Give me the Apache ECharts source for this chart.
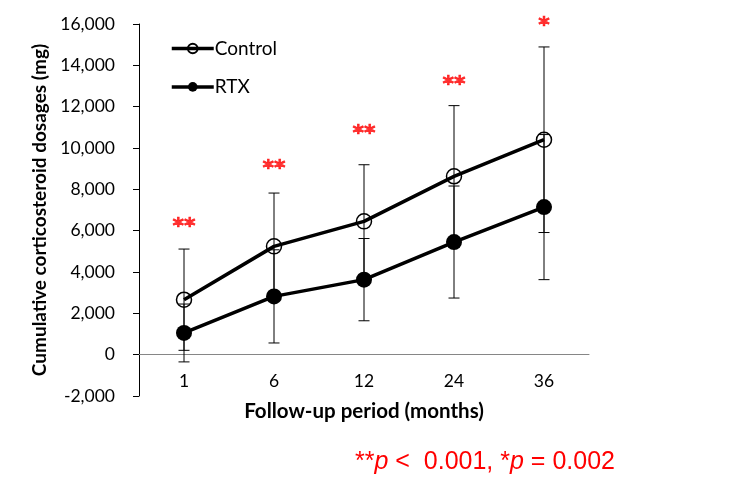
<!DOCTYPE html>
<html>
<head>
<meta charset="utf-8">
<script src="https://cdn.jsdelivr.net/npm/echarts@6/dist/echarts.min.js"></script>
<style>html,body{margin:0;padding:0;background:#fff;}#c{width:750px;height:491px;}</style>
</head>
<body>
<div id="c"></div>
<script>
var categories = ['1', '6', '12', '24', '36'];
var controlMean = [2660, 5240, 6450, 8630, 10400];
var controlSD = [2450, 2580, 2740, 3420, 4490];
var rtxMean = [1050, 2820, 3630, 5450, 7140];
var rtxSD = [1400, 2254, 1990, 2710, 3510];
var starLabels = ['**', '**', '**', '**', '*'];
var starY = [6450, 9240, 10970, 13310, 16170];
var yTicks = { min: -2000, max: 16000, interval: 2000 };

var FONT = 'Lato';

function errData(mean, sd) {
  return mean.map(function (m, i) { return [i, m - sd[i], m + sd[i]]; });
}
function renderErr(params, api) {
  var x = api.value(0);
  var lo = api.coord([x, api.value(1)]);
  var hi = api.coord([x, api.value(2)]);
  var w = 5.5;
  var st = { stroke: '#000', lineWidth: 1 };
  return {
    type: 'group',
    children: [
      { type: 'line', shape: { x1: hi[0], y1: hi[1], x2: lo[0], y2: lo[1] }, style: st },
      { type: 'line', shape: { x1: hi[0] - w, y1: hi[1], x2: hi[0] + w, y2: hi[1] }, style: st },
      { type: 'line', shape: { x1: lo[0] - w, y1: lo[1], x2: lo[0] + w, y2: lo[1] }, style: st }
    ]
  };
}

var chart = echarts.init(document.getElementById('c'));
chart.setOption({
  animation: false,
  backgroundColor: '#fff',
  textStyle: { fontFamily: FONT },
  grid: { left: 139, right: 161, top: 24, bottom: 95, containLabel: false },
  legend: {
    left: 170, top: 39, orient: 'vertical', padding: 0,
    itemWidth: 42, itemHeight: 12, itemGap: 19.4,
    lineStyle: { width: 3.5, color: '#000' },
    textStyle: { fontFamily: FONT, fontSize: 19, color: '#000', padding: [0, 0, 0, -4] },
    data: ['Control', 'RTX']
  },
  xAxis: {
    type: 'category', data: categories, boundaryGap: true,
    axisLine: { onZero: true, lineStyle: { color: '#868686', width: 1 } },
    axisTick: { show: false },
    axisLabel: { fontFamily: FONT, fontSize: 17.5, color: '#000', margin: -24 },
    name: 'Follow-up period (months)', nameLocation: 'middle', nameGap: 5,
    nameTextStyle: { fontFamily: FONT, fontSize: 20.5, fontWeight: 'bold', color: '#000' }
  },
  yAxis: {
    type: 'value', min: yTicks.min, max: yTicks.max, interval: yTicks.interval,
    axisLine: { show: true, lineStyle: { color: '#000', width: 1 } },
    axisTick: { show: true, inside: false, length: 6, lineStyle: { color: '#000' } },
    splitLine: { show: false },
    axisLabel: { fontFamily: FONT, fontSize: 17.5, color: '#000', margin: 24 },
    name: 'Cumulative corticosteroid dosages (mg)', nameLocation: 'middle', nameGap: 87.5, nameRotate: 90,
    nameTextStyle: { fontFamily: FONT, fontSize: 19, fontWeight: 'bold', color: '#000' }
  },
  series: [
    { type: 'custom', name: 'errC', renderItem: renderErr, data: errData(controlMean, controlSD), z: 1, silent: true },
    { type: 'custom', name: 'errR', renderItem: renderErr, data: errData(rtxMean, rtxSD), z: 1, silent: true },
    {
      type: 'line', name: 'Control', data: controlMean, z: 3,
      symbol: 'circle', symbolSize: 15,
      lineStyle: { color: '#000', width: 3.5 },
      itemStyle: { color: 'rgba(255,255,255,0)', borderColor: '#000', borderWidth: 1.5 }
    },
    {
      type: 'line', name: 'RTX', data: rtxMean, z: 3,
      symbol: 'circle', symbolSize: 16,
      lineStyle: { color: '#000', width: 3.5 },
      itemStyle: { color: '#000', borderColor: '#000', borderWidth: 0 }
    },
    {
      type: 'scatter', name: 'stars', data: starY, symbolSize: 1, clip: false, silent: true,
      itemStyle: { color: 'rgba(0,0,0,0)' },
      label: {
        show: true, position: 'inside', offset: [0, 6],
        formatter: function (p) { return starLabels[p.dataIndex]; },
        fontFamily: 'DejaVu Sans', fontSize: 22, fontWeight: 'bold', color: '#ff0000',
        textBorderColor: '#ff0000', textBorderWidth: 0.7
      }
    }
  ],
  title: {
    left: 350, top: 445,
    text: '{a|**}{b|p}{a| <  0.001, *}{b|p}{a| = 0.002}',
    textStyle: {
      fontWeight: 'normal',
      rich: {
        a: { fontFamily: 'Liberation Sans', fontSize: 25, fontWeight: 'normal', color: '#ff0000' },
        b: { fontFamily: 'Liberation Sans', fontSize: 25, fontWeight: 'normal', fontStyle: 'italic', color: '#ff0000' }
      }
    }
  }
});
</script>
</body>
</html>
